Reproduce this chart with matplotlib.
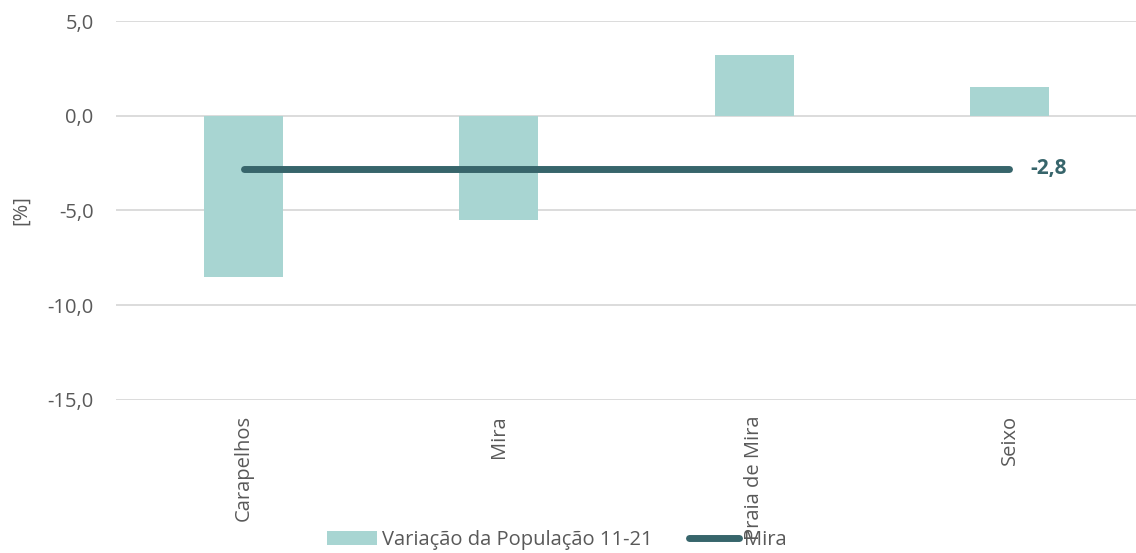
import numpy as np
import matplotlib
matplotlib.use("Agg")
import matplotlib.pyplot as plt
from matplotlib.patches import Patch
from matplotlib.lines import Line2D

# data
categories = ["Carapelhos", "Mira", "Praia de Mira", "Seixo"]
variacao = [-8.5, -5.5, 3.2, 1.5]      # Variação da População 11-21
mira_ref = [-2.8, -2.8, -2.8, -2.8]    # municipality value
yticks = [-15, -10, -5, 0, 5]

bar_color = "#a8d5d2"
line_color = "#37656b"
text_color = "#595959"

plt.rcParams["font.family"] = ["Open Sans", "DejaVu Sans"]
fs = 14.5

fig = plt.figure(figsize=(11.36, 5.53), dpi=100)
ax = fig.add_axes([0.102, 0.2767, 0.899, 0.6853])

x = np.arange(len(categories))
ax.bar(x, variacao, width=0.31, color=bar_color, zorder=2)
ax.plot(x, mira_ref, color=line_color, linewidth=5, solid_capstyle="round", zorder=3)
ax.text(x[-1] + 0.08, mira_ref[-1], "-2,8", color=line_color, fontsize=15,
        fontweight="bold", va="center", ha="left")

ax.set_xlim(-0.5, len(categories) - 0.5)
ax.set_ylim(-15, 5)
ax.set_yticks(yticks)
ax.set_yticklabels([f"{v:.1f}".replace(".", ",") for v in yticks])
ax.set_xticks(x)
ax.set_xticklabels(categories, rotation=90, va="top", ha="center")
ax.tick_params(axis="both", length=0, labelsize=fs, colors=text_color)
ax.tick_params(axis="x", pad=11)
ax.tick_params(axis="y", pad=16)
ax.grid(axis="y", color="#d9d9d9", linewidth=1.3, zorder=0)
for s in ax.spines.values():
    s.set_visible(False)
ax.set_ylabel("[%]", fontsize=fs, color=text_color, labelpad=12)

handles = [Patch(facecolor=bar_color, edgecolor="none"),
           Line2D([0], [0], color=line_color, linewidth=5, solid_capstyle="round")]
fig.legend(handles, ["Variação da População 11-21", "Mira"], loc="lower center",
           bbox_to_anchor=(0.49, -0.028), ncol=2, frameon=False, fontsize=fs,
           labelcolor=text_color, handlelength=2.5, handletextpad=0.25, columnspacing=1.8)

fig.savefig("out.png", dpi=100)
